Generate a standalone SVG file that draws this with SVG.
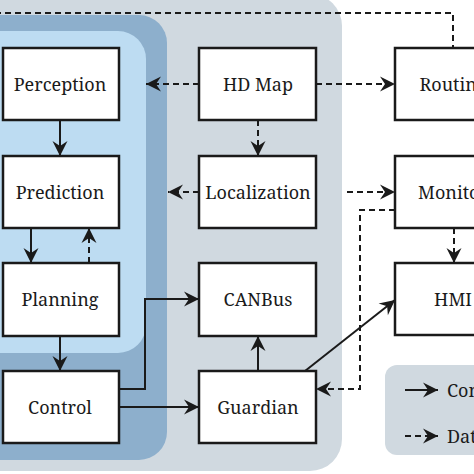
<svg xmlns="http://www.w3.org/2000/svg" width="474" height="474" viewBox="0 0 474 474">
<style>
.node rect{fill:#ffffff;stroke:#1a1a1a;stroke-width:2.5}
text{font-family:"Noto Serif","Liberation Serif","DejaVu Serif",serif;font-size:18px;fill:#1a1a1a}
.node text{text-anchor:middle}
.c{fill:none;stroke:#1a1a1a;stroke-width:2}
.d{stroke-dasharray:6 4}
.h{marker-end:url(#ah)}
</style>
<defs>
<marker id="ah" markerUnits="userSpaceOnUse" markerWidth="20" markerHeight="20" viewBox="-2 -10 20 20" refX="15" refY="0" orient="auto">
<path d="M0,-7.5 L15,0 L0,7.5 L5,0 Z" fill="#1a1a1a"/>
</marker>
</defs>
<rect width="474" height="474" fill="#ffffff"/>
<g id="panels">
<rect x="-40" y="-6" width="382" height="477" rx="32" fill="#d0d9e0"/>
<rect x="-40" y="15" width="207" height="445" rx="28" fill="#8dafcc"/>
<rect x="-40" y="31" width="186" height="322" rx="28" fill="#bddcf2"/>
</g>
<g id="legend">
<rect x="385" y="365" width="120" height="90" rx="12" fill="#d0d9e0"/>
<path class="c h" d="M405,390 H438"/>
<path class="c d h" d="M405,436 H438"/>
<text x="447" y="397">Control</text>
<text x="447" y="443">Data</text>
</g>
<g id="connectors">
<path class="c d" d="M-5,13 H453 V48"/>
<path class="c d h" d="M199,84 H146"/>
<path class="c d h" d="M199,192 H168"/>
<path class="c d h" d="M316,84 H395"/>
<path class="c d h" d="M258,120 V156"/>
<path class="c d h" d="M347,192 H395"/>
<path class="c d h" d="M395,210 H360 V389 H316"/>
<path class="c d h" d="M454,228 V263"/>
<path class="c h" d="M60,120 V156"/>
<path class="c h" d="M31,228 V263"/>
<path class="c d h" d="M89,263 V228"/>
<path class="c h" d="M60,336 V371"/>
<path class="c h" d="M119,389 H145 V299 H199"/>
<path class="c h" d="M119,407 H199"/>
<path class="c h" d="M258,371 V336"/>
<path class="c h" d="M305,371 L395,300"/>
</g>
<g id="perception" class="node"><rect x="3" y="48" width="116" height="72"/><text x="60" y="91">Perception</text></g>
<g id="prediction" class="node"><rect x="3" y="156" width="116" height="72"/><text x="60" y="199">Prediction</text></g>
<g id="planning" class="node"><rect x="3" y="263" width="116" height="73"/><text x="60" y="306">Planning</text></g>
<g id="control" class="node"><rect x="3" y="371" width="116" height="72"/><text x="60" y="414">Control</text></g>
<g id="hdmap" class="node"><rect x="199" y="48" width="117" height="72"/><text x="258" y="91">HD Map</text></g>
<g id="localization" class="node"><rect x="199" y="156" width="117" height="72"/><text x="258" y="199">Localization</text></g>
<g id="canbus" class="node"><rect x="199" y="263" width="117" height="73"/><text x="258" y="306">CANBus</text></g>
<g id="guardian" class="node"><rect x="199" y="371" width="117" height="72"/><text x="258" y="414">Guardian</text></g>
<g id="routing" class="node"><rect x="395" y="48" width="117" height="72"/><text x="453" y="91">Routing</text></g>
<g id="monitor" class="node"><rect x="395" y="156" width="117" height="72"/><text x="453" y="199">Monitor</text></g>
<g id="hmi" class="node"><rect x="395" y="263" width="117" height="72"/><text x="453" y="306">HMI</text></g>
</svg>
